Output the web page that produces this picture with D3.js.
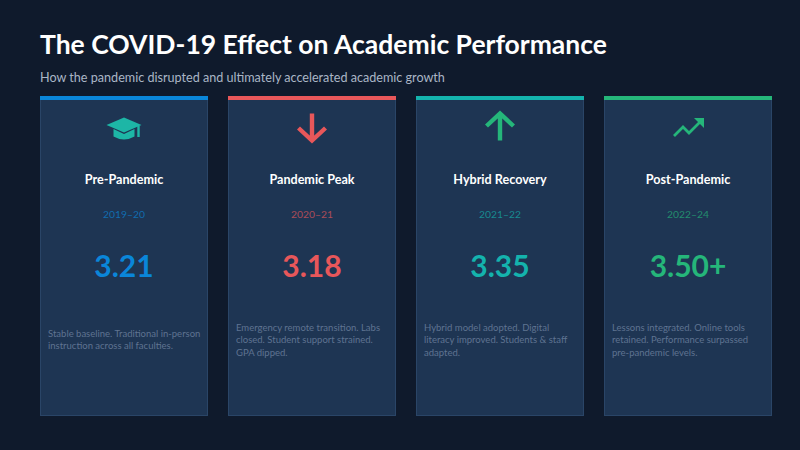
<!DOCTYPE html>
<html>
<head>
<meta charset="utf-8">
<script src="https://cdn.jsdelivr.net/npm/d3@7"></script>
<style>
  html, body { margin: 0; padding: 0; background: #0f1a2c; }
  svg { display: block; font-family: Lato, "Open Sans", sans-serif; }
</style>
</head>
<body>
<svg id="chart" width="800" height="450"></svg>
<script>
// Data
const phases = ['Pre-Pandemic', 'Pandemic Peak', 'Hybrid Recovery', 'Post-Pandemic'];
const periods = ['2019\u201320', '2020\u201321', '2021\u201322', '2022\u201324'];
const gpaLabels = ['3.21', '3.18', '3.35', '3.50+'];
const notes = [
  'Stable baseline. Traditional in-person instruction across all faculties.',
  'Emergency remote transition. Labs closed. Student support strained. GPA dipped.',
  'Hybrid model adopted. Digital literacy improved. Students & staff adapted.',
  'Lessons integrated. Online tools retained. Performance surpassed pre-pandemic levels.'
];
const icons = ['cap', 'down', 'up', 'trend'];

// Palette
const accent = ['#0a86d9', '#e8575a', '#14b3ad', '#25b67a'];
const iconColor = ['#1db6a6', '#e8575a', '#25b67a', '#25b67a'];

const width = 800, height = 450;
const svg = d3.select('#chart');

svg.append('rect')
  .attr('width', width).attr('height', height)
  .attr('fill', '#0f1a2c');

svg.append('text')
  .attr('x', 40).attr('y', 54)
  .attr('fill', '#ffffff')
  .style('font-size', '26.5px')
  .style('font-weight', 700)
  .text('The COVID-19 Effect on Academic Performance');

svg.append('text')
  .attr('x', 40).attr('y', 82)
  .attr('fill', '#aab6c6')
  .style('font-size', '12.6px')
  .text('How the pandemic disrupted and ultimately accelerated academic growth');

const x = d3.scaleBand()
  .domain(phases)
  .range([40, 772])
  .paddingInner(20 / 188)
  .paddingOuter(0);

const cardTop = 96, cardBottom = 416;

const cards = svg.selectAll('.card')
  .data(phases)
  .enter()
  .append('g')
  .attr('class', 'card')
  .attr('transform', d => `translate(${x(d)},${cardTop})`);

const bw = x.bandwidth();

cards.append('rect')
  .attr('x', 0.5).attr('y', 0.5)
  .attr('width', bw - 1)
  .attr('height', cardBottom - cardTop - 1)
  .attr('fill', '#1e3553')
  .attr('stroke', '#2a4567')
  .attr('stroke-width', 1);

cards.append('rect')
  .attr('width', bw)
  .attr('height', 4)
  .attr('fill', (d, i) => accent[i]);

// Icons
const iconG = cards.append('g')
  .attr('transform', `translate(${bw / 2},31)`);

iconG.each(function(d, i) {
  const g = d3.select(this);
  const c = iconColor[i];
  if (icons[i] === 'cap') {
    g.append('path')
      .attr('d', 'M0,-9.5 L17.5,-2 L0,5.5 L-17.5,-2 Z')
      .attr('fill', c);
    g.append('path')
      .attr('d', 'M-10.5,2 L-10.5,9.5 Q0,15.5 10.5,9.5 L10.5,2 L0,7 Z')
      .attr('fill', c);
    g.append('path')
      .attr('d', 'M14.5,-1 L14.5,10')
      .attr('stroke', c).attr('stroke-width', 2.4).attr('fill', 'none');
  } else if (icons[i] === 'down' || icons[i] === 'up') {
    const s = icons[i] === 'down' ? 1 : -1;
    g.append('path')
      .attr('d', `M0,${-13.5 * s} L0,${13.5 * s} M${-13.5},${1 * s} L0,${13.5 * s} L13.5,${1 * s}`)
      .attr('stroke', c).attr('stroke-width', 4.4)
      .attr('fill', 'none').attr('stroke-linejoin', 'miter');
  } else {
    g.append('path')
      .attr('d', 'M-14,9 L-5,0 L1,6 L13,-6')
      .attr('stroke', c).attr('stroke-width', 2.8)
      .attr('fill', 'none').attr('stroke-linejoin', 'miter');
    g.append('path')
      .attr('d', 'M6,-9 L16,-9 L16,1 Z')
      .attr('fill', c);
  }
});

cards.append('text')
  .attr('x', bw / 2).attr('y', 88)
  .attr('text-anchor', 'middle')
  .attr('fill', '#ffffff')
  .style('font-size', '12.6px')
  .style('font-weight', 700)
  .text(d => d);

cards.append('text')
  .attr('x', bw / 2).attr('y', 122)
  .attr('text-anchor', 'middle')
  .attr('fill', (d, i) => accent[i])
  .attr('fill-opacity', 0.7)
  .style('font-size', '10.3px')
  .text((d, i) => periods[i]);

cards.append('text')
  .attr('x', bw / 2).attr('y', 181)
  .attr('text-anchor', 'middle')
  .attr('fill', (d, i) => accent[i])
  .style('font-size', '30px')
  .style('font-weight', 700)
  .text((d, i) => gpaLabels[i]);

// Wrapped descriptions, block centred vertically
const lineH = 12.5;
const blockMid = 244;
const maxW = 155;
cards.append('text')
  .attr('x', 8)
  .attr('fill', '#5f7391')
  .style('font-size', '9.5px')
  .each(function(d, i) {
    const t = d3.select(this);
    const words = notes[i].split(' ');
    let line = [];
    let tspan = t.append('tspan').attr('x', 8).attr('dy', 0);
    let n = 1;
    words.forEach(w => {
      line.push(w);
      tspan.text(line.join(' '));
      if (tspan.node().getComputedTextLength() > maxW && line.length > 1) {
        line.pop();
        tspan.text(line.join(' '));
        line = [w];
        n++;
        tspan = t.append('tspan').attr('x', 8).attr('dy', lineH).text(w);
      }
    });
    t.attr('y', blockMid - (n - 1) * lineH / 2 + 3);
  });
</script>
</body>
</html>
